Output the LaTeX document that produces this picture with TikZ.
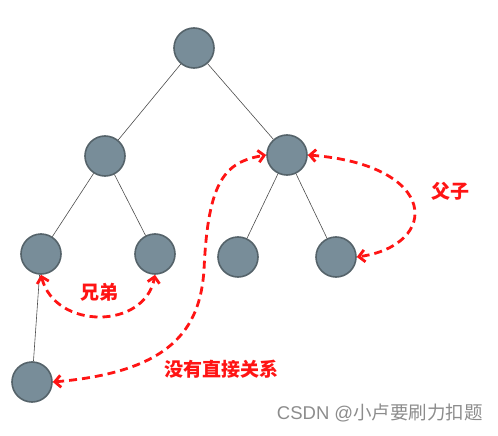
\documentclass[tikz,border=0pt]{standalone}
\usepackage{fontspec}
\newfontfamily\cjk{Noto Sans CJK SC}
\usetikzlibrary{arrows.meta}
\definecolor{nodefill}{RGB}{120,141,153}
\definecolor{nodeedge}{RGB}{85,99,106}
\definecolor{rel}{RGB}{255,20,20}
\definecolor{wm}{RGB}{140,140,140}
\begin{document}
\begin{tikzpicture}[x=1pt,y=-1pt,
  tnode/.style={circle,minimum size=40pt,inner sep=0pt,fill=nodefill,draw=nodeedge,line width=1.6pt},
  edge/.style={draw=black!70,line width=0.6pt},
  relarrow/.style={draw=rel,line width=2.8pt,dash pattern=on 8pt off 5pt,{Straight Barb[length=6pt,width=12pt]}-{Straight Barb[length=6pt,width=12pt]}},
  rellabel/.style={text=rel,font=\cjk\bfseries\fontsize{19pt}{19pt}\selectfont,inner sep=0pt}]
\useasboundingbox (0,0) rectangle (498,436);
\node[tnode] (r) at (194,48) {};
\node[tnode] (a) at (105,156) {};
\node[tnode] (b) at (287,155) {};
\node[tnode] (a1) at (41,254) {};
\node[tnode] (a2) at (155,254) {};
\node[tnode] (b1) at (238,257) {};
\node[tnode] (b2) at (336,257) {};
\node[tnode] (c) at (32,382) {};
\draw[edge] (r) -- (a);
\draw[edge] (r) -- (b);
\draw[edge] (a) -- (a1);
\draw[edge] (a) -- (a2);
\draw[edge] (b) -- (b1);
\draw[edge] (b) -- (b2);
\draw[edge] (a1) -- (c);
\draw[relarrow] (a1.south) .. controls (55,330) and (145,330) .. (a2.south);
\draw[relarrow] (b.east) .. controls (440,165) and (440,245) .. (b2.east);
\draw[relarrow] (c.east) .. controls (170,372) and (200,330) .. (204,270)
  .. controls (208,180) and (225,162) .. (b.west);
\node[rellabel] (l1) at (99,292) {兄弟};
\node[rellabel] (l2) at (450,191) {父子};
\node[rellabel] (l3) at (221,369) {没有直接关系};
\node[text=wm,font=\fontsize{18.5pt}{18.5pt}\selectfont,inner sep=0pt,anchor=east] (w) at (483,413) {\setmainfont{Liberation Sans}CSDN @\cjk 小卢要刷力扣题};
\end{tikzpicture}
\end{document}
